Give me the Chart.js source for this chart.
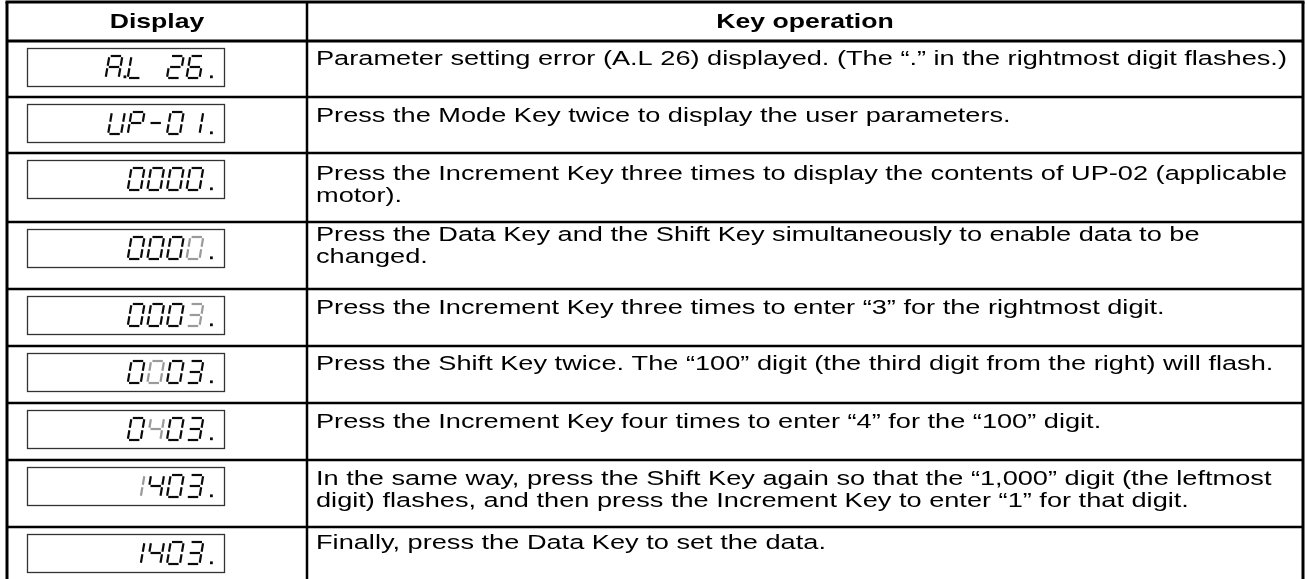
<!DOCTYPE html>
<html>
<head>
<meta charset="utf-8">
<script src="https://cdn.jsdelivr.net/npm/chart.js@4.4.1/dist/chart.umd.min.js"></script>
<style>
  html, body { margin: 0; padding: 0; background: #ffffff; }
  #wrap { width: 1307px; height: 579px; position: relative; }
</style>
</head>
<body>
<div id="wrap"><canvas id="c"></canvas></div>
<script>
// ---------- data ----------
const COLUMNS = ["Display", "Key operation"];
const DISPLAYS = ["A.L 26.", "UP-01.", "0000.", "0000.", "0003.", "0003.", "0403.", "1403.", "1403."];
// index (among digit characters) of the flashing digit, or null
const FLASHING = [null, null, null, 3, 3, 1, 1, 0, null];
const OPERATIONS = [
  ["Parameter setting error (A.L 26) displayed. (The \u201C.\u201D in the rightmost digit flashes.)"],
  ["Press the Mode Key twice to display the user parameters."],
  ["Press the Increment Key three times to display the contents of UP-02 (applicable", "motor)."],
  ["Press the Data Key and the Shift Key simultaneously to enable data to be", "changed."],
  ["Press the Increment Key three times to enter \u201C3\u201D for the rightmost digit."],
  ["Press the Shift Key twice. The \u201C100\u201D digit (the third digit from the right) will flash."],
  ["Press the Increment Key four times to enter \u201C4\u201D for the \u201C100\u201D digit."],
  ["In the same way, press the Shift Key again so that the \u201C1,000\u201D digit (the leftmost", "digit) flashes, and then press the Increment Key to enter \u201C1\u201D for that digit."],
  ["Finally, press the Data Key to set the data."]
];

// ---------- layout (page units) ----------
const LAYOUT = {
  width: 1307, height: 579,
  left: 7, right: 1303, split: 307, top: 2, headerBottom: 41,
  rowBottoms: [97, 153, 222, 289, 346, 403, 460, 527, 583],
  textLeft: 316, textSX: 1.38, fontSize: 19.7, headFontSize: 19.3,
  baselines: [24, 25, 27, 19, 25, 24, 25, 25, 22], lineGap: 22,
  boxL: 27, boxR: 224, boxTop: 7, boxH: 38
};

const SEG = { '0':'abcdef', '1':'bc', '2':'abged', '3':'abgcd', '4':'fgbc', '5':'afgcd',
  '6':'afgedc', '7':'abc', '8':'abcdefg', '9':'abcdfg', 'A':'abcefg', 'L':'def',
  'U':'bcdef', 'P':'abefg', '-':'g', ' ':'' };

function drawDisplay(ctx, str, flashIdx, bl, bt, br, bb) {
  ctx.save();
  ctx.strokeStyle = '#333333';
  ctx.lineWidth = 1.3;
  ctx.strokeRect(bl + 0.5, bt + 0.5, br - bl, bb - bt);
  const chars = [];
  for (const ch of str) {
    if (ch === '.' && chars.length) chars[chars.length - 1].dot = true;
    else chars.push({ c: ch, dot: false });
  }
  const n = chars.length;
  const pitch = 19.6, w = 13, H = 22, slant = 3.8, g = 1.3;
  const top = bt + (bb - bt - H) / 2;
  const segs = {
    a: [[g, 0], [w - g, 0]], b: [[w, g], [w, H / 2 - g]], c: [[w, H / 2 + g], [w, H - g]],
    d: [[g, H], [w - g, H]], e: [[0, H / 2 + g], [0, H - g]], f: [[0, g], [0, H / 2 - g]],
    g: [[g, H / 2], [w - g, H / 2]]
  };
  const slots = new Array(n);
  let sl = br - 37.5;
  for (let i = n - 1; i >= 0; i--) {
    if (i < n - 1) { sl -= pitch; if (chars[i].dot) sl -= 2.5; }
    slots[i] = sl;
  }
  chars.forEach((o, i) => {
    const s0 = slots[i];
    const X = (x, y) => s0 + x + slant * (1 - y / H);
    const Y = (y) => top + y;
    ctx.strokeStyle = (i === flashIdx) ? '#9a9a9a' : '#0a0a0a';
    ctx.lineWidth = 2.2;
    ctx.lineCap = 'butt';
    for (const s of (SEG[o.c] || '')) {
      const [p, q] = segs[s];
      ctx.beginPath();
      ctx.moveTo(X(p[0], p[1]), Y(p[1]));
      ctx.lineTo(X(q[0], q[1]), Y(q[1]));
      ctx.stroke();
    }
    if (o.dot) {
      ctx.fillStyle = '#0a0a0a';
      const dx = (i === n - 1) ? 23.5 : 17.9;
      ctx.fillRect(s0 + dx, top + H - 2.6, 2.8, 2.8);
    }
  });
  ctx.restore();
}

function stretchedText(ctx, txt, x, y, sx, align) {
  ctx.save();
  ctx.translate(x, y);
  ctx.scale(sx, 1);
  ctx.textAlign = align;
  ctx.fillText(txt, 0, 0);
  ctx.restore();
}

const tablePlugin = {
  id: 'table',
  beforeDraw(chart) {
    const ctx = chart.ctx;
    ctx.save();
    ctx.fillStyle = '#ffffff';
    ctx.fillRect(0, 0, chart.width, chart.height);
    ctx.restore();
  },
  afterDraw(chart) {
    const ctx = chart.ctx, xs = chart.scales.x, ys = chart.scales.y;
    const L = LAYOUT;
    const px = v => xs.getPixelForValue(v), py = v => ys.getPixelForValue(v);
    ctx.save();
    ctx.strokeStyle = '#000';
    const bounds = [L.headerBottom].concat(L.rowBottoms);
    bounds.forEach((b, i) => {
      ctx.lineWidth = i === 0 ? 3 : 2.5;
      ctx.beginPath(); ctx.moveTo(px(L.left), py(b)); ctx.lineTo(px(L.right), py(b)); ctx.stroke();
    });
    ctx.lineWidth = 3;
    ctx.beginPath(); ctx.moveTo(px(L.left) - 1.5, py(L.top)); ctx.lineTo(px(L.right) + 1.5, py(L.top)); ctx.stroke();
    const bottom = L.rowBottoms[L.rowBottoms.length - 1];
    [[L.left, 3], [L.split, 2.5], [L.right, 3]].forEach(([x, lw]) => {
      ctx.lineWidth = lw;
      ctx.beginPath(); ctx.moveTo(px(x), py(L.top)); ctx.lineTo(px(x), py(bottom)); ctx.stroke();
    });
    ctx.fillStyle = '#000';
    ctx.textBaseline = 'alphabetic';
    ctx.font = 'bold ' + L.headFontSize + 'px "Liberation Sans", Arial, sans-serif';
    const hb = (py(L.top) + py(L.headerBottom)) / 2 + L.headFontSize * 0.36;
    stretchedText(ctx, COLUMNS[0], (px(L.left) + px(L.split)) / 2, hb, L.textSX, 'center');
    stretchedText(ctx, COLUMNS[1], (px(L.split) + px(L.right)) / 2, hb, L.textSX, 'center');
    ctx.font = L.fontSize + 'px "Liberation Sans", Arial, sans-serif';
    let rowTop = L.headerBottom;
    DISPLAYS.forEach((d, i) => {
      const t = py(rowTop);
      drawDisplay(ctx, d, FLASHING[i], px(L.boxL), t + L.boxTop, px(L.boxR), t + L.boxTop + L.boxH);
      ctx.fillStyle = '#000';
      OPERATIONS[i].forEach((line, j) => {
        stretchedText(ctx, line, px(L.textLeft), t + L.baselines[i] + j * L.lineGap, L.textSX, 'left');
      });
      rowTop = L.rowBottoms[i];
    });
    ctx.restore();
  }
};

new Chart(document.getElementById('c'), {
  type: 'scatter',
  data: { datasets: [{ data: [], showLine: false }] },
  options: {
    responsive: true, maintainAspectRatio: false, animation: false, devicePixelRatio: 1,
    layout: { padding: 0 },
    plugins: { legend: { display: false }, tooltip: { enabled: false }, title: { display: false } },
    scales: {
      x: { type: 'linear', min: 0, max: LAYOUT.width, display: false },
      y: { type: 'linear', min: 0, max: LAYOUT.height, reverse: true, display: false }
    }
  },
  plugins: [tablePlugin]
});
</script>
</body>
</html>
